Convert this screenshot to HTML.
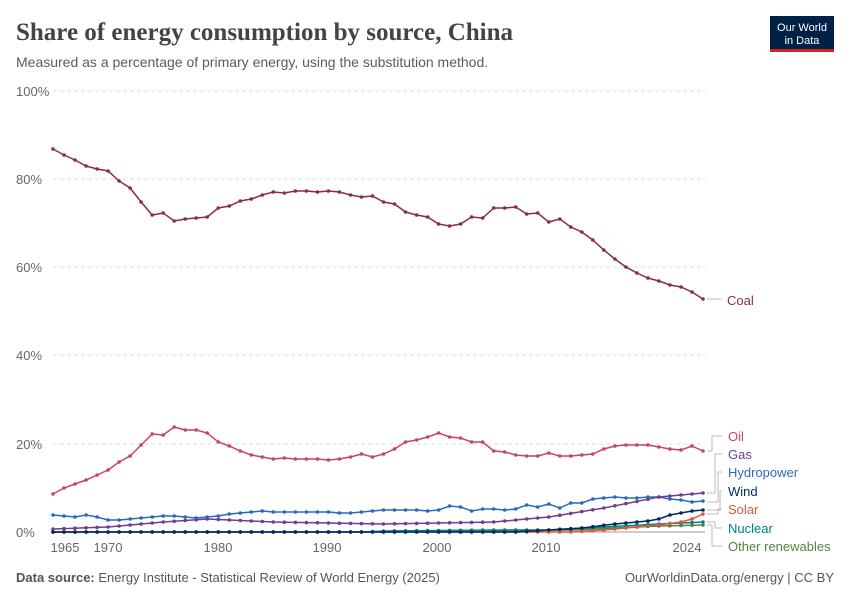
<!DOCTYPE html>
<html><head><meta charset="utf-8"><style>
body{margin:0;background:#fff;width:850px;height:600px;overflow:hidden;font-family:"Liberation Sans",sans-serif}
</style></head><body>
<svg id="s" width="850" height="600" xmlns="http://www.w3.org/2000/svg">
<text x="16" y="40" font-family="Liberation Serif,serif" font-size="25" font-weight="bold" fill="#444">Share of energy consumption by source, China</text>
<text x="16" y="67" font-size="14" fill="#5b5b5b">Measured as a percentage of primary energy, using the substitution method.</text>
<rect x="770" y="16" width="64" height="36" fill="#002147"/>
<rect x="770" y="49" width="64" height="3" fill="#ce261e"/>
<text x="802" y="31" font-size="11" fill="#fff" text-anchor="middle">Our World</text>
<text x="802" y="44" font-size="11" fill="#fff" text-anchor="middle">in Data</text>
<g font-size="13" fill="#666">
<text x="16" y="96">100%</text><text x="16" y="184">80%</text><text x="16" y="272">60%</text>
<text x="16" y="360">40%</text><text x="16" y="449">20%</text><text x="16" y="537">0%</text>
</g>
<g stroke="#ddd" stroke-dasharray="4,3">
<line x1="53" x2="705" y1="91" y2="91"/><line x1="53" x2="705" y1="179" y2="179"/>
<line x1="53" x2="705" y1="267" y2="267"/><line x1="53" x2="705" y1="355" y2="355"/>
<line x1="53" x2="705" y1="444" y2="444"/>
</g>
<line x1="53" x2="705" y1="532" y2="532" stroke="#999"/>
<g font-size="13" fill="#666" text-anchor="middle">
<text x="65" y="552">1965</text><text x="108" y="552">1970</text><text x="218" y="552">1980</text>
<text x="327" y="552">1990</text><text x="437" y="552">2000</text><text x="546" y="552">2010</text><text x="687" y="552">2024</text>
</g>
<g id="lines"></g>
<g font-size="13">
<text x="727" y="305" fill="#883039">Coal</text>
<text x="728" y="441" fill="#c4465f">Oil</text>
<text x="728" y="459" fill="#6d3e91">Gas</text>
<text x="728" y="477" fill="#286bbb">Hydropower</text>
<text x="728" y="496" fill="#00295b">Wind</text>
<text x="728" y="514" fill="#d9573f">Solar</text>
<text x="728" y="533" fill="#00847e">Nuclear</text>
<text x="728" y="551" fill="#578145">Other renewables</text>
</g>
<g stroke="#bbb" fill="none">
<path d="M707 299H722"/>
<path d="M707 451H712V436H722"/>
<path d="M707 493H715V454H722"/>
<path d="M707 502H718V472H722"/>
<path d="M707 510H720V491H722"/>
<path d="M707 514H718V509H722"/>
<path d="M707 522H715V528H722"/>
<path d="M707 525H712V546H722"/>
</g>
<text x="16" y="582" font-size="13" fill="#555"><tspan font-weight="bold">Data source:</tspan> Energy Institute - Statistical Review of World Energy (2025)</text>
<text x="834" y="582" font-size="13" fill="#555" text-anchor="end">OurWorldinData.org/energy | CC BY</text>
</svg>
<script>
function interp(k){var a=[];for(var y=1965;y<=2024;y++){for(var i=0;i<k.length-1;i++){if(y>=k[i][0]&&y<=k[i+1][0]){var t=(y-k[i][0])/(k[i+1][0]-k[i][0]);a.push(k[i][1]+t*(k[i+1][1]-k[i][1]));break;}}}return a;}
var S=[
["#883039",[149,155,160,166,169,171,181,188,202,215,213,221,219,218,217,208,206,201,199,195,192,193,191,191,192,191,192,195,197,196,202,204,212,215,217,224,226,224,217,218,208,208,207,214,213,222,219,227,232,240,250,259,267,273,278,281,285,287,292,299]],
["#c4465f",[494,488,484,480,475,470,462,456,445,434,435,427,430,430,433,442,446,451,455,457,459,458,459,459,459,460,459,457,454,457,454,449,442,440,437,433,437,438,442,442,451,452,455,456,456,453,456,456,455,454,449,446,445,445,445,447,449,450,446,451]],
["#286bbb",[515,516,517,515,517,520,520,519,518,517,516,516,517,518,517,516,514,513,512,511,512,512,512,512,512,512,513,513,512,511,510,510,510,510,511,510,506,507,511,509,509,510,509,505,507,504,508,503,503,499,498,497,498,498,497,497,499,500,502,501]],
["#6d3e91",interp([[1965,529],[1970,527],[1975,522],[1979,519],[1985,522],[1990,523],[1995,524],[2000,523],[2005,522],[2010,517],[2015,508],[2020,497],[2024,493]])],
["#578145",interp([[1965,532],[1995,532],[2005,531],[2012,530],[2016,528],[2020,526],[2024,525]])],
["#00847e",interp([[1965,532],[1993,532],[1995,531],[2005,530],[2010,530],[2015,527],[2020,524],[2024,522]])],
["#d9573f",interp([[1965,532],[2012,532],[2015,530],[2018,527],[2020,525],[2022,522],[2023,519],[2024,514]])],
["#00295b",interp([[1965,532],[2007,532],[2010,530],[2013,528],[2016,524],[2019,521],[2020,519],[2021,515],[2022,513],[2023,511],[2024,510]])]
];
var g=document.getElementById('lines'),h='';
S.forEach(function(s){var p='',c='';s[1].forEach(function(y,i){var x=53+i*650/59;p+=(i?'L':'M')+x.toFixed(1)+' '+y.toFixed(1);c+='<circle cx="'+x.toFixed(1)+'" cy="'+y.toFixed(1)+'" r="1.8" fill="'+s[0]+'"/>';});
h+='<path d="'+p+'" fill="none" stroke="'+s[0]+'" stroke-width="1.5"/>'+c;});
g.innerHTML=h;
</script>
</body></html>
